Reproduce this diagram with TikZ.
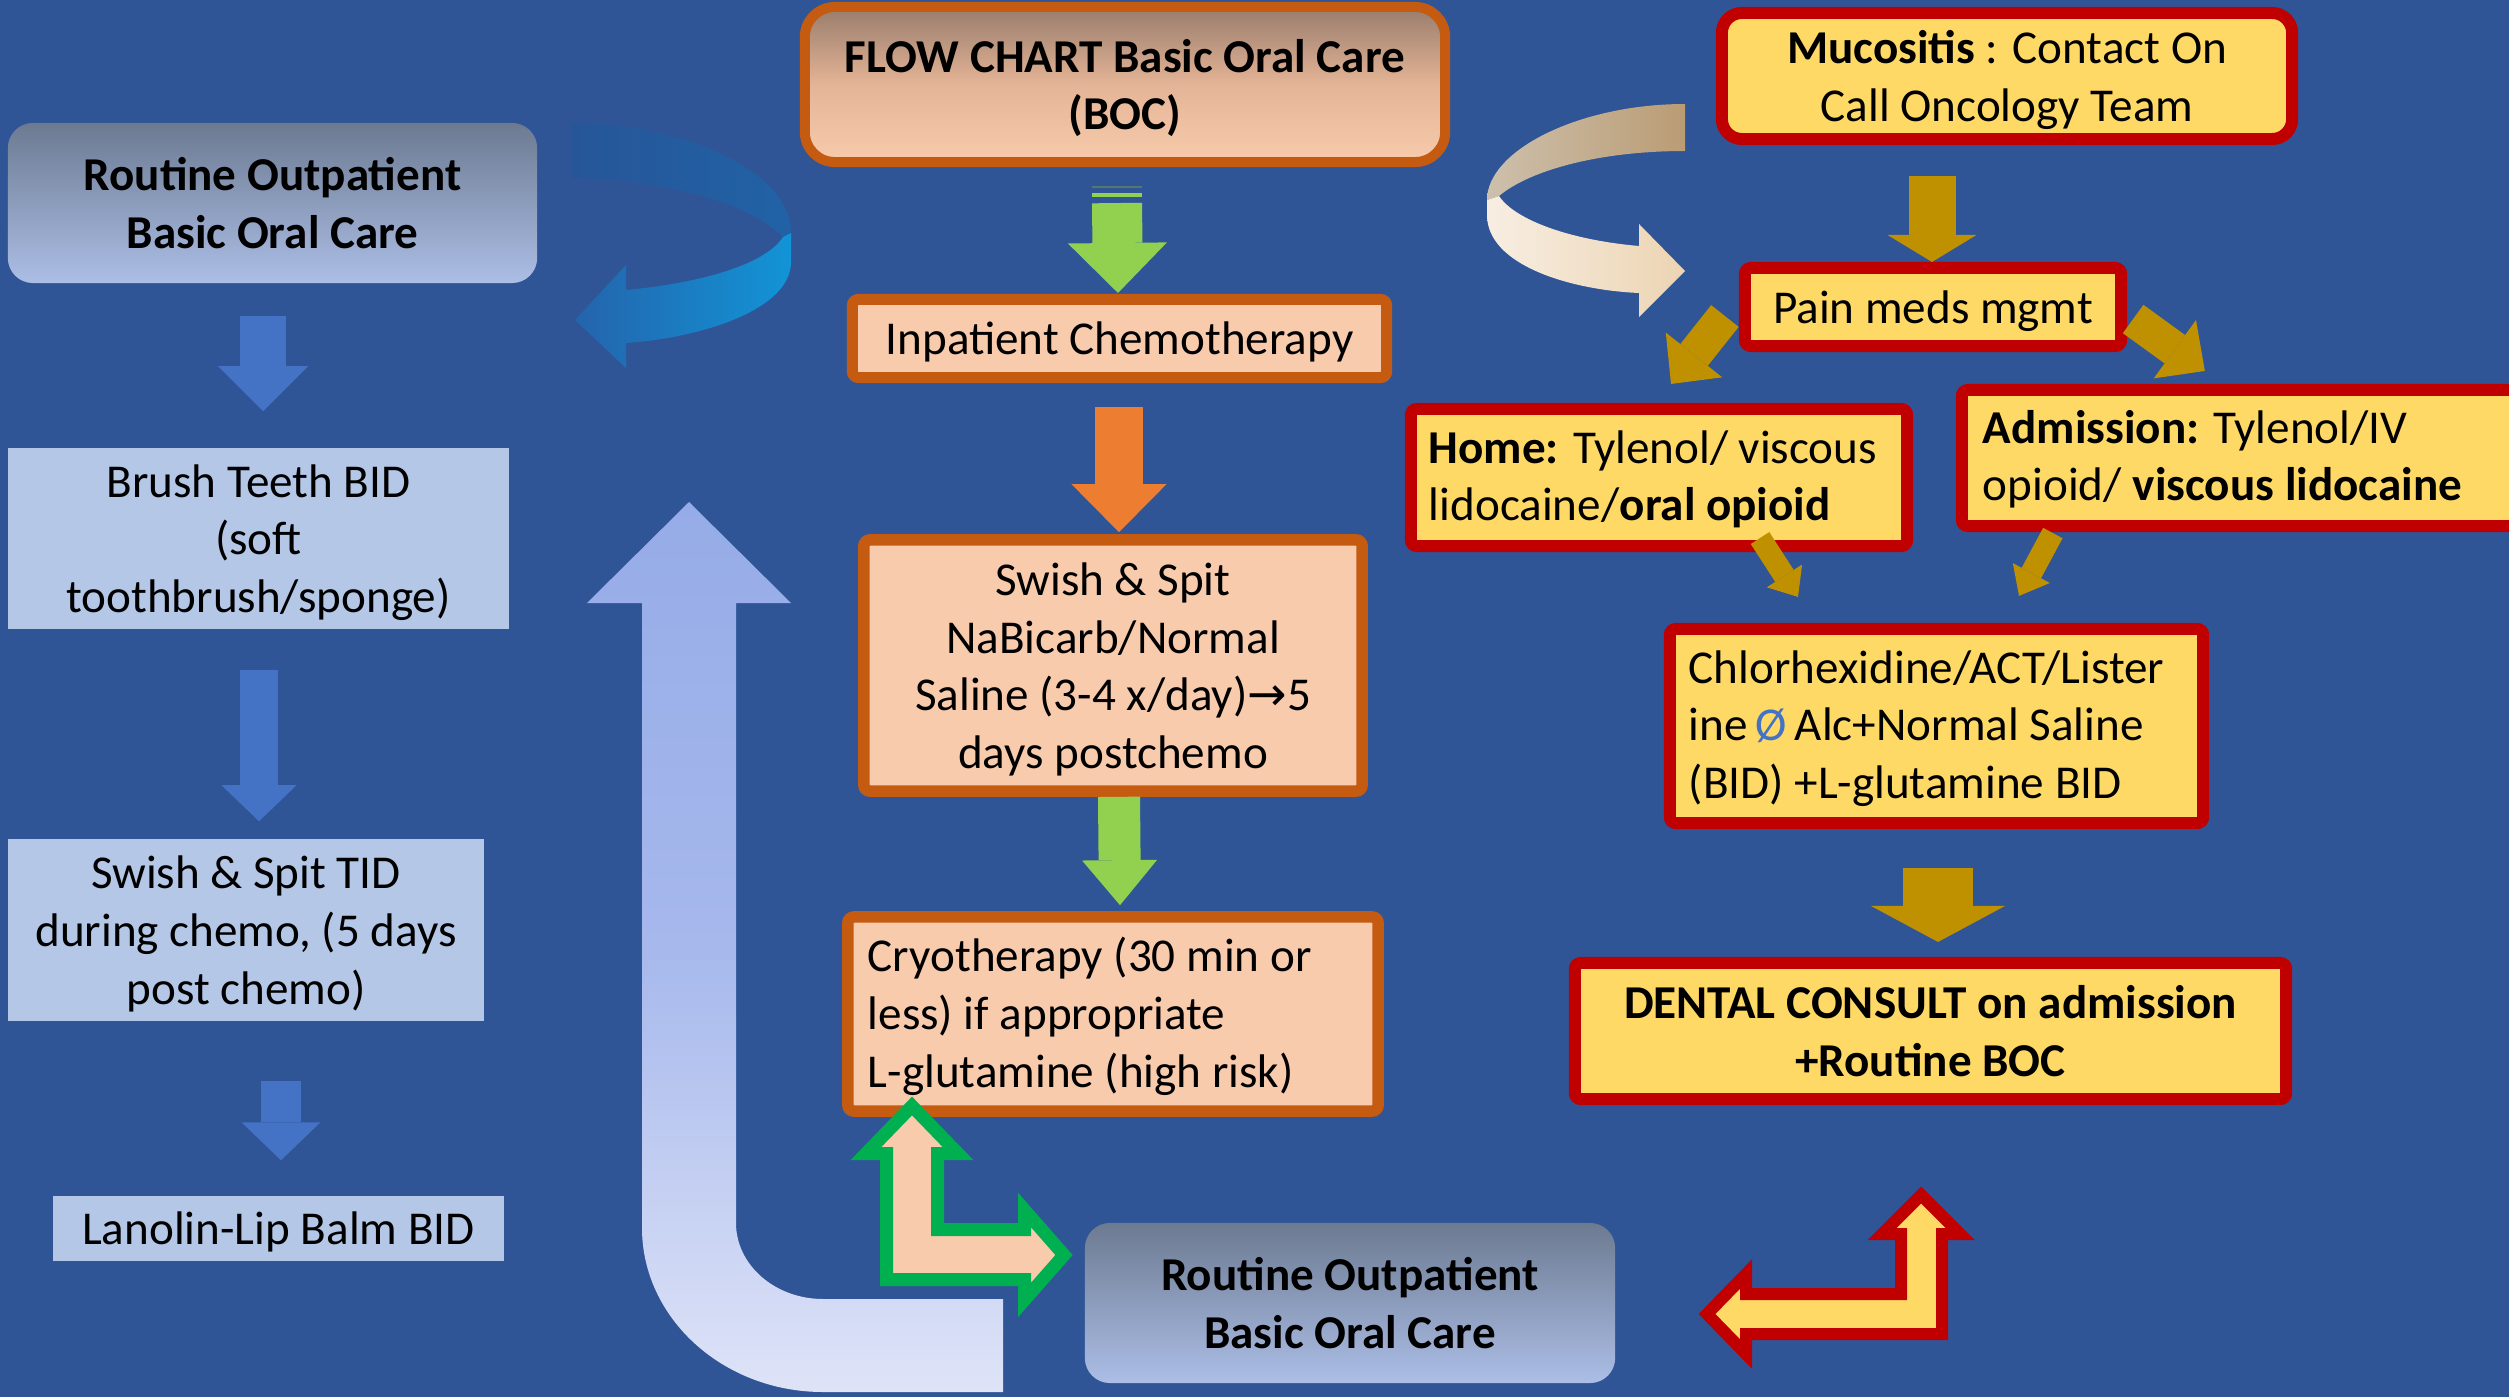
\documentclass[tikz,border=0pt]{standalone}
\usepackage{fontspec}
\setmainfont{Carlito}
\newfontfamily\symbolfont{DejaVu Sans}
\usetikzlibrary{arrows.meta}

\definecolor{bgblue}{RGB}{47,85,151}
\definecolor{paleblue}{RGB}{180,199,231}
\definecolor{arrblue}{RGB}{68,114,196}
\definecolor{slate}{RGB}{108,122,145}
\definecolor{skyblue}{RGB}{172,190,230}
\definecolor{burnt}{RGB}{197,90,17}
\definecolor{peach}{RGB}{248,203,173}
\definecolor{mocha}{RGB}{152,124,108}
\definecolor{apricot}{RGB}{228,180,150}
\definecolor{leaf}{RGB}{146,208,80}
\definecolor{moss}{RGB}{84,120,110}
\definecolor{tangerine}{RGB}{237,125,49}
\definecolor{crimson}{RGB}{192,0,0}
\definecolor{sand}{RGB}{255,217,102}
\definecolor{ochre}{RGB}{191,144,0}
\definecolor{emerald}{RGB}{0,176,80}
\definecolor{periwinkle}{RGB}{150,172,232}
\definecolor{lavender}{RGB}{166,184,236}
\definecolor{mist}{RGB}{222,227,247}

\tikzset{
  txt/.style={font=\fontsize{13.4}{16.4}\selectfont, text=black, inner sep=0pt, text depth=0pt},
  plainbox/.style={txt, fill=paleblue, align=flush center},
  outbox/.style={txt, font=\fontsize{13.4}{16.4}\selectfont\bfseries, align=flush center,
    rounded corners=2.5mm, top color=slate, bottom color=skyblue},
  chemobox/.style={txt, draw=burnt, line width=1.15mm, fill=peach, rounded corners=0.6mm},
  alertbox/.style={txt, draw=crimson, line width=1.2mm, fill=sand, rounded corners=0.6mm},
  leftlines/.style={align=flush left, text height=0.3cm, text depth=#1},
  blockarr/.style n args={4}{draw=#1, line width=#2,
    -{Triangle[length=#3, width=#4, line width=0pt]}},
}

\begin{document}
\begin{tikzpicture}[x=0.01cm, y=-0.01cm]
  \useasboundingbox (0,0) rectangle (2509,1397);
  \clip (0,0) rectangle (2509,1397);
  \fill[bgblue] (0,0) rectangle (2509,1397);

  % ribbon arrows
  \shade[left color={rgb,255:red,38;green,86;blue,152}, right color={rgb,255:red,33;green,98;blue,166}]
    (572,123) .. controls (680,123) and (791,170) .. (791,233) -- (783,237)
    .. controls (745,200) and (660,180) .. (572,178) -- cycle;
  \shade[left color={rgb,255:red,36;green,100;blue,172}, right color={rgb,255:red,18;green,148;blue,214}]
    (783,237) -- (791,233) -- (791,262) .. controls (791,310) and (700,338) .. (626,343)
    -- (626,368) -- (575,320) -- (626,265) -- (626,290)
    .. controls (700,283) and (765,265) .. (783,237) -- cycle;
  \shade[left color={rgb,255:red,205;green,192;blue,172}, right color={rgb,255:red,186;green,156;blue,116}]
    (1685,104) .. controls (1580,104) and (1487,150) .. (1487,200) -- (1499,196)
    .. controls (1530,170) and (1600,151) .. (1685,151) -- cycle;
  \shade[left color={rgb,255:red,247;green,238;blue,226}, right color={rgb,255:red,236;green,212;blue,178}]
    (1499,196) -- (1487,200) -- (1487,215) .. controls (1487,265) and (1570,290) .. (1639,293)
    -- (1639,317) -- (1685,271) -- (1639,224) -- (1639,246)
    .. controls (1570,240) and (1515,220) .. (1499,196) -- cycle;

  % big return arrow
  \shade[top color=periwinkle, bottom color=mist, middle color=lavender]
    (689,502) -- (791,603) -- (736,603) -- (736,1223)
    .. controls (736,1265) and (775,1299) .. (823,1299) -- (1003,1299) -- (1003,1392) -- (823,1392)
    .. controls (723,1392) and (642,1318) .. (642,1228) -- (642,603) -- (587,603) -- cycle;

  % left column
  \node[outbox, minimum width=5.29cm, minimum height=1.6cm] (outpatA) at (272.5,203)
    {Routine Outpatient\\Basic Oral Care};
  \node[plainbox, minimum width=5.01cm, minimum height=1.81cm] (brush) at (258.5,538.5)
    {Brush Teeth BID\\(soft\\toothbrush/sponge)};
  \node[plainbox, minimum width=4.76cm, minimum height=1.82cm] (swishL) at (246,930)
    {Swish \& Spit TID\\during chemo, (5 days\\post chemo)};
  \node[plainbox, minimum width=4.51cm, minimum height=0.65cm] (lanolin) at (278.5,1228.5)
    {Lanolin-Lip Balm BID};

  % middle column
  \node[chemobox, line width=1mm, rounded corners=3mm, minimum width=6.4cm, minimum height=1.55cm,
    top color=mocha, bottom color=peach, middle color=apricot,
    font=\fontsize{13.4}{16.4}\selectfont\bfseries, align=flush center] (flow) at (1125,84.5)
    {FLOW CHART Basic Oral Care\\(BOC)};
  \node[chemobox, line width=1.1mm, minimum width=5.34cm, minimum height=0.78cm] (inpat) at (1119.5,338.5)
    {Inpatient Chemotherapy};
  \node[chemobox, minimum width=4.98cm, minimum height=2.51cm, align=flush center] (swishM) at (1113,665.5)
    {Swish \& Spit\\NaBicarb/Normal\\Saline (3-4 x/day){\symbolfont →}5\\days postchemo};
  \node[chemobox, minimum width=5.3cm, minimum height=1.94cm, text width=4.9cm, leftlines=1.144cm] (cryo) at (1113,1014)
    {Cryotherapy (30 min or\\less) if appropriate\\L-glutamine (high risk)};
  \node[outbox, minimum width=5.3cm, minimum height=1.6cm] (outpatB) at (1350,1303)
    {Routine Outpatient\\Basic Oral Care};

  % right column
  \node[alertbox, rounded corners=2mm, minimum width=5.7cm, minimum height=1.26cm, align=flush center] (mucos) at (2007,76)
    {\textbf{Mucositis} : Contact On\\Call Oncology Team};
  \node[alertbox, minimum width=3.76cm, minimum height=0.78cm] (pain) at (1933,307)
    {Pain meds mgmt};
  \node[alertbox, minimum width=4.96cm, minimum height=1.37cm, text width=4.6cm, leftlines=0.587cm] (home) at (1659,477.5)
    {\textbf{Home:} Tylenol/ viscous\\lidocaine/\textbf{oral opioid}};
  \node[alertbox, minimum width=6.08cm, minimum height=1.36cm, text width=5.66cm, leftlines=0.597cm] (admis) at (2266,458)
    {\textbf{Admission:} Tylenol/IV\\opioid/ \textbf{viscous lidocaine}};
  \node[alertbox, minimum width=5.33cm, minimum height=1.94cm, text width=4.95cm, leftlines=1.154cm] (chlor) at (1936.5,726)
    {Chlorhexidine/ACT/Lister\\ine\,{\color{arrblue}Ø}\,Alc+Normal Saline\\(BID) +L-glutamine BID};
  \node[alertbox, minimum width=7.11cm, minimum height=1.36cm, align=flush center,
    font=\fontsize{13.4}{16.4}\selectfont\bfseries] (dental) at (1930.5,1031)
    {DENTAL CONSULT on admission\\+Routine BOC};

  % block arrows
  \draw[blockarr={arrblue}{0.46cm}{0.45cm}{0.9cm}] ([shift={(-9.5,32)}]outpatA.south) -- ([shift={(4.5,-36)}]brush.north);
  \draw[blockarr={arrblue}{0.38cm}{0.36cm}{0.75cm}] ([shift={(0.5,40)}]brush.south) -- ([shift={(13,-17)}]swishL.north);
  \draw[blockarr={arrblue}{0.4cm}{0.38cm}{0.79cm}] ([shift={(35,59)}]swishL.south) -- ([shift={(2.5,-35)}]lanolin.north);

  \draw[blockarr={leaf}{0.5cm}{0.5cm}{0.99cm}] ([shift={(-8,36)}]flow.south) coordinate (g1top) -- ([shift={(-1.5,-1)}]inpat.north);
  \fill[leaf] ([shift={(-25,-10)}]g1top) rectangle ([shift={(25,-6)}]g1top);
  \fill[moss] ([shift={(-25,-17)}]g1top) rectangle ([shift={(25,-15)}]g1top);
  \draw[blockarr={tangerine}{0.48cm}{0.48cm}{0.95cm}] ([shift={(-0.5,24)}]inpat.south) -- ([shift={(6,-2)}]swishM.north);
  \draw[blockarr={leaf}{0.42cm}{0.45cm}{0.75cm}] ([shift={(6,0)}]swishM.south) -- ([shift={(7,-6)}]cryo.north);

  \draw[blockarr={ochre}{0.47cm}{0.27cm}{0.89cm}] ([shift={(-75,31)}]mucos.south) -- ([shift={(-1,0)}]pain.north);
  \draw[blockarr={ochre}{0.35cm}{0.37cm}{0.72cm}] ([shift={(-14,9)}]pain.west) -- ([shift={(12,-19)}]home.north);
  \draw[blockarr={ochre}{0.35cm}{0.37cm}{0.72cm}] ([shift={(6,12)}]pain.east) -- ([shift={(249,-13)}]admis.north west);
  \draw[blockarr={ochre}{0.22cm}{0.25cm}{0.42cm}] ([shift={(101,-14)}]home.south) -- ([shift={(-138.5,-26)}]chlor.north);
  \draw[blockarr={ochre}{0.22cm}{0.26cm}{0.42cm}] ([shift={(97,1)}]admis.south west) -- ([shift={(82.5,-27)}]chlor.north);
  \draw[blockarr={ochre}{0.7cm}{0.36cm}{1.34cm}] ([shift={(1.5,39)}]chlor.south) -- ([shift={(7.5,-15)}]dental.north);

  % bent double arrows
  \draw[emerald, line width=1.3mm, fill=peach, line join=miter]
    (912,1106) -- (958,1153.5) -- (937.5,1153.5) -- (937.5,1229.5) -- (1024.5,1229.5) -- (1024.5,1210)
    -- (1064,1255) -- (1024.5,1300) -- (1024.5,1279.5) -- (886.5,1279.5) -- (886.5,1153.5) -- (866,1153.5) -- cycle;
  \draw[crimson, line width=1.2mm, fill=sand, line join=miter]
    (1921,1195) -- (1960,1234) -- (1942,1234) -- (1942,1334) -- (1746,1334) -- (1746,1354)
    -- (1707,1314) -- (1746,1274) -- (1746,1294) -- (1901,1294) -- (1901,1234) -- (1882,1234) -- cycle;
\end{tikzpicture}
\end{document}
